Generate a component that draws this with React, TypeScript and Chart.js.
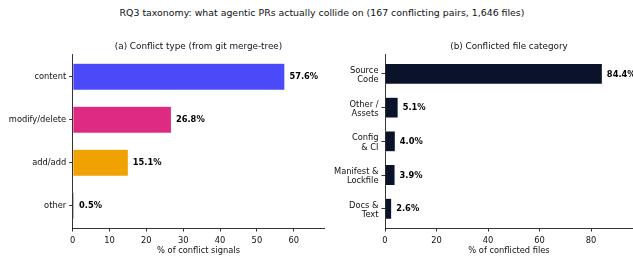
import React, { useEffect, useRef } from "react";
import { Chart, registerables } from "chart.js";

Chart.register(...registerables);

const FONT = "'DejaVu Sans', sans-serif";

const suptitle = "RQ3 taxonomy: what agentic PRs actually collide on (167 conflicting pairs, 1,646 files)";

const typeTitle = "(a) Conflict type (from git merge-tree)";
const typeCategories = ["content", "modify/delete", "add/add", "other"];
const typeValues = [57.6, 26.8, 15.1, 0.5];
const typeColors = ["#4A4AF8", "#DE2A80", "#F0A202", "#8E94AE"];
const typeAxisLabel = "% of conflict signals";

const fileTitle = "(b) Conflicted file category";
const fileCategories = [
  ["Source", "Code"],
  ["Other /", "Assets"],
  ["Config", "& CI"],
  ["Manifest &", "Lockfile"],
  ["Docs &", "Text"],
];
const fileValues = [84.4, 5.1, 4.0, 3.9, 2.6];
const fileColor = "#0B132B";
const fileAxisLabel = "% of conflicted files";

const TICK_PX = 8.3;
const TEXT = "#111";

function makePlugins(title: string) {
  return [
    {
      id: "panelTitle",
      afterDraw(chart: any) {
        const { ctx, chartArea } = chart;
        ctx.save();
        ctx.font = `8.8px ${FONT}`;
        ctx.fillStyle = TEXT;
        ctx.textAlign = "center";
        ctx.textBaseline = "middle";
        ctx.fillText(title, (chartArea.left + chartArea.right) / 2, 47);
        ctx.restore();
      },
    },
    {
      id: "valueLabels",
      afterDatasetsDraw(chart: any) {
        const { ctx } = chart;
        const meta = chart.getDatasetMeta(0);
        const data = chart.data.datasets[0].data as any[];
        ctx.save();
        ctx.font = `bold ${TICK_PX}px ${FONT}`;
        ctx.fillStyle = "#000";
        ctx.textAlign = "left";
        ctx.textBaseline = "middle";
        meta.data.forEach((el: any, i: number) => {
          ctx.fillText(`${data[i].x.toFixed(1)}%`, el.x + 4.5, el.y + 0.5);
        });
        ctx.restore();
      },
    },
  ];
}

function makeConfig(
  labels: any[],
  values: number[],
  colors: string | string[],
  xMax: number,
  step: number,
  yMin: number,
  yMax: number,
  yWidth: number,
  padRight: number,
  barPct: number,
  labelShift: number,
  axisLabel: string,
  title: string
): any {
  return {
    type: "bar",
    data: {
      datasets: [
        {
          data: values.map((v, i) => ({ x: v, y: i })),
          backgroundColor: colors,
          borderColor: "#ffffff",
          borderWidth: 0.5,
          barPercentage: barPct,
          categoryPercentage: 1,
        },
      ],
    },
    options: {
      indexAxis: "y",
      animation: false,
      responsive: false,
      maintainAspectRatio: false,
      devicePixelRatio: 1,
      layout: { padding: { top: 54, right: padRight, left: 0, bottom: 0 } },
      plugins: {
        legend: { display: false },
        tooltip: { enabled: false },
        title: { display: false },
      },
      scales: {
        x: {
          type: "linear",
          min: 0,
          max: xMax,
          offset: false,
          afterBuildTicks(scale: any) {
            scale.ticks = scale.ticks.filter(
              (t: any) => Math.abs(t.value / step - Math.round(t.value / step)) < 1e-6
            );
          },
          afterFit(scale: any) {
            scale.height = 31;
          },
          ticks: { stepSize: step, font: { family: FONT, size: TICK_PX }, color: TEXT, padding: 4, maxRotation: 0 },
          grid: { drawOnChartArea: false, drawTicks: true, tickLength: 3.5, tickColor: "#000", tickWidth: 0.8 },
          border: { display: true, color: "#000", width: 0.8 },
          title: {
            display: true,
            text: axisLabel,
            font: { family: FONT, size: TICK_PX },
            color: TEXT,
            padding: { top: 2, bottom: 3 },
          },
        },
        y: {
          type: "linear",
          reverse: true,
          min: yMin,
          max: yMax,
          offset: false,
          afterBuildTicks(scale: any) {
            scale.ticks = labels.map((_, i) => ({ value: i }));
          },
          afterFit(scale: any) {
            scale.width = yWidth;
          },
          ticks: {
            font: { family: FONT, size: TICK_PX, lineHeight: 1.15 },
            color: TEXT,
            padding: 3,
            autoSkip: false,
            labelOffset: labelShift,
            callback: (v: number) => labels[Math.round(v)],
          },
          grid: {
            offset: false,
            drawOnChartArea: false,
            drawTicks: true,
            tickLength: 3.5,
            tickColor: "#000",
            tickWidth: 0.8,
          },
          border: { display: true, color: "#000", width: 0.8 },
        },
      },
    },
    plugins: makePlugins(title),
  };
}

export default function App() {
  const leftRef = useRef<HTMLCanvasElement>(null);
  const rightRef = useRef<HTMLCanvasElement>(null);

  useEffect(() => {
    const left = new Chart(
      leftRef.current!,
      makeConfig(typeCategories, typeValues, typeColors, 68.3, 10, -0.53, 3.52, 72.7, 5.7, 0.63, 0, typeAxisLabel, typeTitle)
    );
    const right = new Chart(
      rightRef.current!,
      makeConfig(fileCategories, fileValues, fileColor, 96.3, 20, -0.59, 4.57, 55, 0, 0.62, 1.5, fileAxisLabel, fileTitle)
    );
    return () => {
      left.destroy();
      right.destroy();
    };
  }, []);

  return (
    <div style={{ position: "fixed", left: 0, top: 0, width: 633, height: 259, background: "#fff" }}>
      <div
        style={{
          position: "absolute",
          left: 0,
          top: 6,
          width: 644,
          textAlign: "center",
          fontFamily: FONT,
          fontSize: 9.4,
          lineHeight: "13px",
          color: TEXT,
          whiteSpace: "nowrap",
        }}
      >
        {suptitle}
      </div>
      <canvas ref={leftRef} width={330} height={259} style={{ position: "absolute", left: 0, top: 0, width: 330, height: 259 }} />
      <canvas ref={rightRef} width={303} height={259} style={{ position: "absolute", left: 330, top: 0, width: 303, height: 259 }} />
    </div>
  );
}
